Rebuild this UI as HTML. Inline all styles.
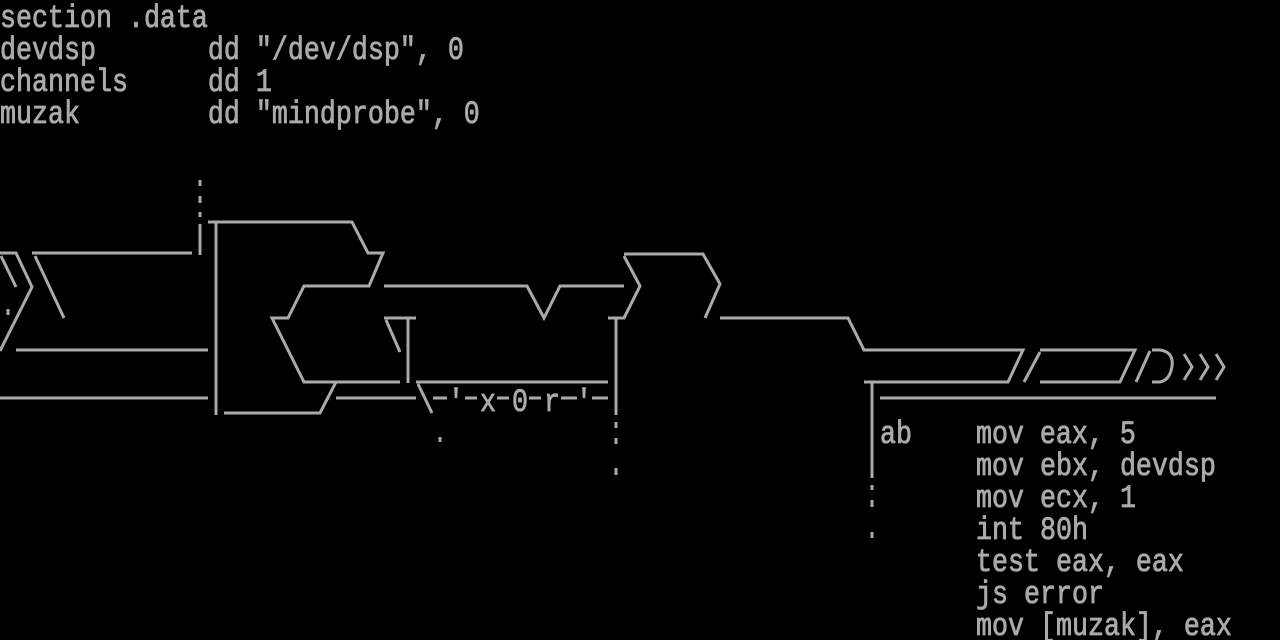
<!DOCTYPE html>
<html><head><meta charset="utf-8"><style>
html,body{margin:0;padding:0;background:#000;width:1280px;height:640px;overflow:hidden}
svg{display:block}
text{font-family:"Liberation Mono",monospace;font-size:26.67px;fill:#aaa;stroke:#aaa;stroke-width:0.7px;white-space:pre}
</style></head><body>
<svg width="1280" height="640" viewBox="0 0 1280 640">
<g>
<text transform="translate(0,27) scale(1,1.2)">section .data</text>
<text transform="translate(0,59) scale(1,1.2)">devdsp       dd "/dev/dsp", 0</text>
<text transform="translate(0,91) scale(1,1.2)">channels     dd 1</text>
<text transform="translate(0,123) scale(1,1.2)">muzak        dd "mindprobe", 0</text>
<text transform="translate(880,443) scale(1,1.2)">ab    mov eax, 5</text>
<text transform="translate(976,475) scale(1,1.2)">mov ebx, devdsp</text>
<text transform="translate(976,507) scale(1,1.2)">mov ecx, 1</text>
<text transform="translate(976,539) scale(1,1.2)">int 80h</text>
<text transform="translate(976,571) scale(1,1.2)">test eax, eax</text>
<text transform="translate(976,603) scale(1,1.2)">js error</text>
<text transform="translate(976,635) scale(1,1.2)">mov [muzak], eax</text>
<text transform="translate(448,411) scale(1,1.2)">' x 0 r '</text>
</g>
<g stroke="#aaa" stroke-width="3" fill="none">
<path d="M200 180V186M200 196V203M200 212V217M200 224V255"/>
<path d="M208 222H352L368 253H383L369 286H304L288 318H272L304 382H400"/>
<path d="M216 222V415"/>
<path d="M384 286H527L544 318L560 286H624"/>
<path d="M0 253H16L32 287L0 351"/>
<path d="M1 256L16 287"/>
<path d="M8 309V315"/>
<path d="M32 253H192"/>
<path d="M35 256L64 318"/>
<path d="M16 350H208"/>
<path d="M0 398H208"/>
<path d="M224 413H320L336 382"/>
<path d="M384 318H416M408 318V383M386 320L400 352"/>
<path d="M336 398H416"/>
<path d="M416 382H608M418 384L432 413"/>
<path d="M433 398H447M465 398H477M497 398H509M529 398H541M561 398H577M592 398H608"/>
<path d="M440 437V442"/>
<path d="M624 254H703L720 284L705 318"/>
<path d="M624 256L640 286L624 318H608"/>
<path d="M616 318V415M616 422V428M616 438V444M616 468V475"/>
<path d="M720 318H848L864 350H1023L1008 382H864"/>
<path d="M872 382V478M872 485V490M872 500V507M872 532V538"/>
<path d="M1040 352L1024 382M1040 350H1135L1120 382H1040"/>
<path d="M1150 351L1136 382"/>
<path d="M1152 350H1160Q1174 352 1172 366Q1170 380 1160 382H1152"/>
<path d="M1184 354L1192 367L1184 380M1200 354L1208 367L1200 380M1216 354L1224 367L1216 380"/>
<path d="M880 398H1216"/>
</g>
</svg>
</body></html>
